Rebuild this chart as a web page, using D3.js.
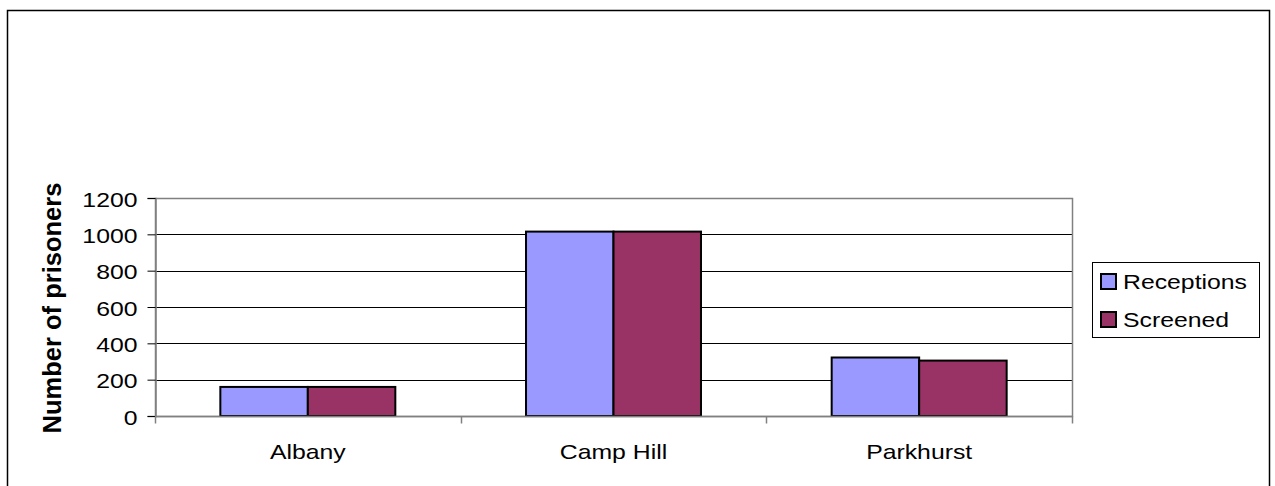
<!DOCTYPE html>
<html>
<head>
<meta charset="utf-8">
<script src="https://cdn.jsdelivr.net/npm/d3@7/dist/d3.min.js"></script>
<style>
  html, body { margin: 0; padding: 0; background: #fff; }
  svg { display: block; }
  text { font-family: Arial, "Liberation Sans", sans-serif; fill: #000; }
</style>
</head>
<body>
<svg id="chart" width="1275" height="486"></svg>
<script>
// Prisoner receptions vs. screened, by establishment
const categories = ["Albany", "Camp Hill", "Parkhurst"];
const seriesNames = ["Receptions", "Screened"];
const receptions = [160, 1015, 322];
const screened = [160, 1015, 305];
const yTicks = [0, 200, 400, 600, 800, 1000, 1200];
const seriesColors = ["#9999FF", "#993366"];

const svg = d3.select("#chart");

// outer chart frame (runs off the bottom of the view)
svg.append("rect")
  .attr("x", 7.5).attr("y", 10.5)
  .attr("width", 1262).attr("height", 520)
  .attr("fill", "#fff").attr("stroke", "#000").attr("stroke-width", 1.5);

const plot = { left: 155, right: 1072, top: 198, bottom: 416 };

const x0 = d3.scaleBand().domain(categories).range([plot.left, plot.right]).padding(0);
const groupFrac = 175 / 305.7;
const x1 = d3.scaleBand().domain(seriesNames)
  .range([0, x0.bandwidth() * groupFrac]).padding(0);
const groupOffset = x0.bandwidth() * (1 - groupFrac) / 2;

const y = d3.scaleLinear().domain([0, 1200]).range([plot.bottom, plot.top]);

const FS = 20, SX = 1.24;   // label font size and horizontal stretch

// gridlines
svg.append("g").selectAll("line")
  .data(yTicks.filter(d => d > 0 && d < 1200))
  .join("line")
  .attr("x1", plot.left).attr("x2", plot.right)
  .attr("y1", d => Math.round(y(d)) + 0.5).attr("y2", d => Math.round(y(d)) + 0.5)
  .attr("stroke", "#000").attr("stroke-width", 1);

// plot area border
svg.append("rect")
  .attr("x", plot.left + 0.5).attr("y", plot.top + 0.5)
  .attr("width", plot.right - plot.left).attr("height", plot.bottom - plot.top)
  .attr("fill", "none").attr("stroke", "#808080").attr("stroke-width", 1.5);

// bars
const values = [receptions, screened];
const barData = [];
categories.forEach((c, i) => {
  seriesNames.forEach((s, j) => {
    barData.push({ cat: c, series: s, value: values[j][i], color: seriesColors[j] });
  });
});
svg.append("g").selectAll("rect")
  .data(barData)
  .join("rect")
  .attr("x", d => x0(d.cat) + groupOffset + x1(d.series))
  .attr("y", d => y(d.value))
  .attr("width", x1.bandwidth())
  .attr("height", d => y(0) - y(d.value))
  .attr("fill", d => d.color)
  .attr("stroke", "#000").attr("stroke-width", 2);

// y axis
const yAxis = svg.append("g").attr("transform", `translate(${plot.left + 0.5},0)`)
  .call(d3.axisLeft(y).tickValues(yTicks).tickSize(8).tickPadding(0).tickFormat(d3.format("d")));
yAxis.select(".domain").attr("stroke", "#808080").attr("stroke-width", 1.5);
yAxis.selectAll(".tick line").attr("stroke", "#000");
yAxis.selectAll(".tick text").remove();
yAxis.selectAll(".tick").append("text")
  .attr("transform", `translate(-18,8) scale(${SX},1)`)
  .attr("text-anchor", "end")
  .style("font-size", FS + "px")
  .attr("fill", "#000")
  .text(d => d);

// x axis with ticks on category boundaries
const xAxisG = svg.append("g").attr("transform", `translate(0,${plot.bottom + 0.5})`);
xAxisG.append("line")
  .attr("x1", plot.left).attr("x2", plot.right)
  .attr("stroke", "#808080").attr("stroke-width", 1.5);
const boundaries = categories.map(c => x0(c)).concat([plot.right]);
xAxisG.selectAll("line.tk").data(boundaries).join("line").attr("class", "tk")
  .attr("x1", d => Math.round(d) + 0.5).attr("x2", d => Math.round(d) + 0.5)
  .attr("y1", 0).attr("y2", 7)
  .attr("stroke", "#808080").attr("stroke-width", 1.5);
xAxisG.selectAll("text").data(categories).join("text")
  .attr("transform", d => `translate(${x0(d) + x0.bandwidth() / 2},42) scale(${SX},1)`)
  .attr("text-anchor", "middle")
  .style("font-size", FS + "px")
  .text(d => d);

// y axis title
svg.append("text")
  .attr("transform", "translate(61,308) rotate(-90)")
  .attr("text-anchor", "middle")
  .style("font-size", "25.5px").style("font-weight", "bold")
  .text("Number of prisoners");

// legend
const legend = svg.append("g");
legend.append("rect")
  .attr("x", 1092.5).attr("y", 262.5).attr("width", 167).attr("height", 75)
  .attr("fill", "#fff").attr("stroke", "#000").attr("stroke-width", 1);
const legendRows = legend.selectAll("g.row").data(seriesNames).join("g")
  .attr("class", "row")
  .attr("transform", (d, i) => `translate(1100,${273 + i * 38})`);
legendRows.append("rect")
  .attr("x", 1).attr("y", 1).attr("width", 15).attr("height", 15)
  .attr("fill", (d, i) => seriesColors[i])
  .attr("stroke", "#000").attr("stroke-width", 2);
legendRows.append("text")
  .attr("transform", `translate(23,15.5) scale(${SX},1)`)
  .style("font-size", FS + "px")
  .text(d => d);
</script>
</body>
</html>
